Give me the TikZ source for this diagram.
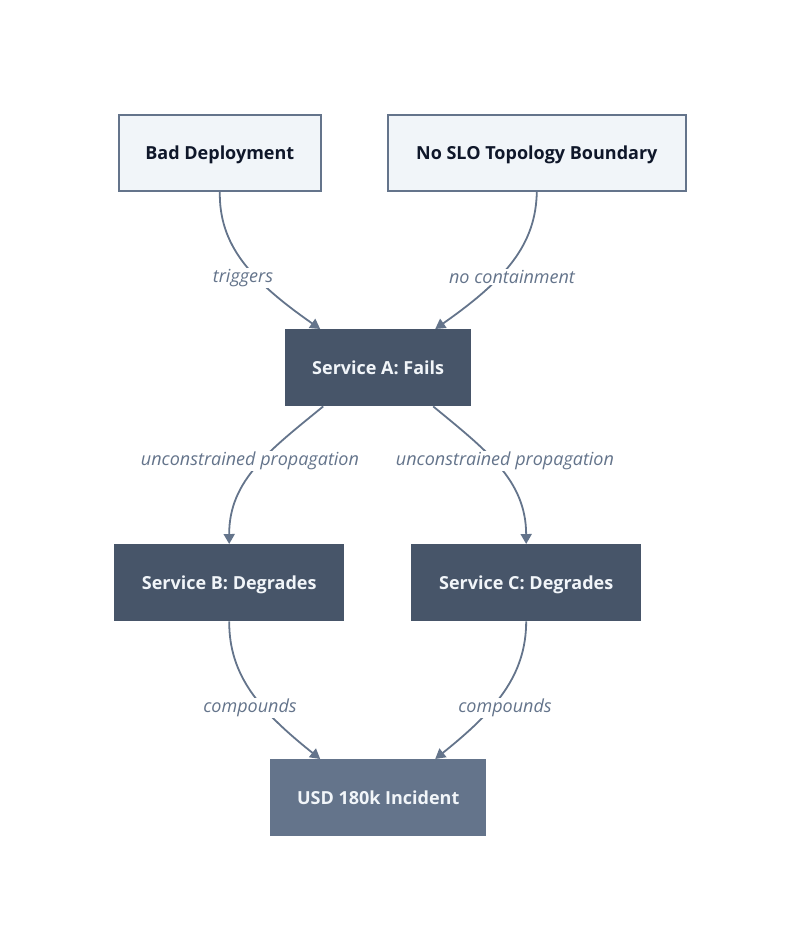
\documentclass[tikz,border=0pt]{standalone}
\usepackage{fontspec}
\setmainfont{Open Sans}
\usetikzlibrary{arrows.meta,calc}
\definecolor{lightfill}{HTML}{F1F5F9}
\definecolor{edgecol}{HTML}{64748B}
\definecolor{darkfill}{HTML}{475569}
\definecolor{midfill}{HTML}{64748B}
\definecolor{darktext}{HTML}{0F172A}
\definecolor{whitetext}{HTML}{F1F5F9}
\tikzset{
  base/.style={rectangle, anchor=north west, inner sep=0pt, text depth=1pt, font=\fontsize{18}{21}\selectfont\bfseries},
  lightbox/.style={base, fill=lightfill, draw=edgecol, line width=1.6pt, text=darktext},
  darkbox/.style={base, fill=darkfill, text=whitetext},
  midbox/.style={base, fill=midfill, text=whitetext},
  conn/.style={draw=edgecol, line width=1.8pt, -{Triangle[length=10pt,width=11pt]}},
  lbl/.style={fill=white, text=edgecol, inner sep=1pt, font=\fontsize{18}{21}\selectfont\itshape}
}
\begin{document}
\begin{tikzpicture}[x=1pt,y=-1pt]
\useasboundingbox (0,0) rectangle (800,951);
\node[lightbox, minimum width=202pt, minimum height=76pt] (bad) at (118,114) {Bad Deployment};
\node[lightbox, minimum width=298pt, minimum height=76pt] (slo) at (387,114) {No SLO Topology Boundary};
\node[darkbox, minimum width=186pt, minimum height=77pt] (a) at (285,329) {Service A: Fails};
\node[darkbox, minimum width=230pt, minimum height=77pt] (b) at (114,544) {Service B: Degrades};
\node[darkbox, minimum width=230pt, minimum height=77pt] (c) at (411,544) {Service C: Degrades};
\node[midbox, minimum width=216pt, minimum height=77pt] (usd) at (270,759) {USD 180k Incident};

\draw[conn] (bad.south) .. controls (219,245) and (250,280) .. ([xshift=-58pt]a.north);
\draw[conn] (slo.south) .. controls (536,245) and (505,280) .. ([xshift=57pt]a.north);
\draw[conn] ([xshift=-55pt]a.south) .. controls (270,450) and (229,480) .. (b.north);
\draw[conn] ([xshift=55pt]a.south) .. controls (486,450) and (526,480) .. (c.north);
\draw[conn] (b.south) .. controls (229,676) and (260,711) .. ([xshift=-58pt]usd.north);
\draw[conn] (c.south) .. controls (526,676) and (495,711) .. ([xshift=57pt]usd.north);

\node[lbl] (l1) at (243,278) {triggers};
\node[lbl] (l2) at (512,277) {no containment};
\node[lbl] (l3) at (250,461) {unconstrained propagation};
\node[lbl] (l4) at (505,461) {unconstrained propagation};
\node[lbl] (l5) at (250,708) {compounds};
\node[lbl] (l6) at (505,708) {compounds};
\end{tikzpicture}
\end{document}
